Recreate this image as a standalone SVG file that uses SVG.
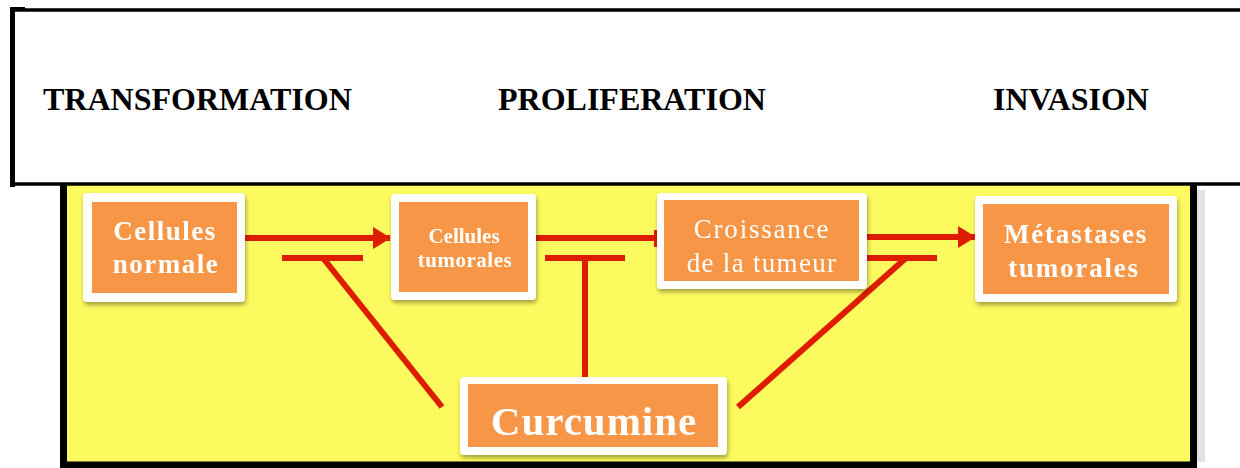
<svg xmlns="http://www.w3.org/2000/svg" width="1240" height="468" viewBox="0 0 1240 468">
  <defs>
    <filter id="shadow" x="-10%" y="-10%" width="125%" height="130%">
      <feGaussianBlur in="SourceAlpha" stdDeviation="2"/>
      <feOffset dx="1" dy="3" result="b"/>
      <feComponentTransfer><feFuncA type="linear" slope="0.35"/></feComponentTransfer>
      <feMerge><feMergeNode/><feMergeNode in="SourceGraphic"/></feMerge>
    </filter>
    <marker id="arrow" viewBox="0 0 18 22" refX="17" refY="11" markerWidth="18" markerHeight="22" markerUnits="userSpaceOnUse" orient="auto">
      <path d="M0,0 L18,11 L0,22 Z" fill="#DD1C00"/>
    </marker>
  </defs>
  <style>
    .frame { fill: #FFFFFF; }
    .box { fill: #F79646; }
    .lbl { fill: #FFFFFF; font-family: "Liberation Serif", "Times New Roman", serif; text-anchor: middle; }
    .b { font-weight: bold; }
    .head { fill: #000000; font-family: "Liberation Serif", "Times New Roman", serif; font-weight: bold; font-size: 32px; }
    .red { stroke: #DD1C00; stroke-width: 6; fill: none; }
  </style>

  <!-- background panels -->
  <rect x="0" y="0" width="1240" height="468" fill="#FFFFFF"/>
  <rect x="63.5" y="180" width="1130" height="285" fill="#FCFA5E" stroke="#000000" stroke-width="7"/>
  <rect x="1197" y="190" width="8" height="272" fill="#C8C8C8" opacity="0.5"/>
  <rect x="13" y="10" width="1240" height="174" fill="#FFFFFF" stroke="#000000" stroke-width="3.5"/>
  <rect x="10" y="7" width="15" height="3" fill="#000000"/>
  <rect x="10" y="7" width="5" height="180" fill="#000000"/>

  <!-- stage headings -->
  <g id="headings">
    <text class="head" x="43" y="110">TRANSFORMATION</text>
    <text class="head" x="498" y="110">PROLIFERATION</text>
    <text class="head" x="993" y="110">INVASION</text>
  </g>

  <!-- connectors -->
  <g id="connectors">
    <line class="red" x1="245" y1="238" x2="390" y2="238" marker-end="url(#arrow)"/>
    <line class="red" x1="536" y1="238" x2="655" y2="238"/>
    <line x1="655.5" y1="230" x2="655.5" y2="247" stroke="#DD1C00" stroke-width="3"/>
    <line class="red" x1="867" y1="237" x2="975" y2="237" marker-end="url(#arrow)"/>

    <line class="red" x1="282" y1="258" x2="363" y2="258"/>
    <line class="red" x1="323" y1="258" x2="442" y2="407"/>

    <line class="red" x1="545" y1="258" x2="625" y2="258"/>
    <line class="red" x1="585" y1="258" x2="585" y2="378"/>

    <line class="red" x1="867" y1="258" x2="937" y2="258"/>
    <line class="red" x1="906" y1="258" x2="738" y2="407"/>
  </g>

  <!-- nodes -->
  <g id="node-normale" filter="url(#shadow)">
    <rect class="frame" x="83" y="193" width="162" height="109" rx="4"/>
    <rect class="box" x="92" y="202" width="145" height="91"/>
    <text class="lbl b" x="165" y="240" font-size="27" letter-spacing="1.5">Cellules</text>
    <text class="lbl b" x="166" y="273" font-size="27" letter-spacing="1.5">normale</text>
  </g>

  <g id="node-tumorales" filter="url(#shadow)">
    <rect class="frame" x="391" y="194" width="145" height="106" rx="4"/>
    <rect class="box" x="399" y="202" width="129" height="90"/>
    <text class="lbl b" x="464" y="243" font-size="21">Cellules</text>
    <text class="lbl b" x="465" y="267" font-size="21" letter-spacing="0.5">tumorales</text>
  </g>

  <g id="node-croissance" filter="url(#shadow)">
    <rect class="frame" x="657" y="193" width="210" height="96" rx="4"/>
    <rect class="box" x="664" y="200" width="195" height="81"/>
    <text class="lbl" x="762" y="238" font-size="27" letter-spacing="1.8">Croissance</text>
    <text class="lbl" x="762" y="272" font-size="27" letter-spacing="1.3">de la tumeur</text>
  </g>

  <g id="node-metastases" filter="url(#shadow)">
    <rect class="frame" x="975" y="196" width="202" height="106" rx="4"/>
    <rect class="box" x="983" y="204" width="186" height="90"/>
    <text class="lbl b" x="1076" y="243" font-size="27" letter-spacing="1.8">Métastases</text>
    <text class="lbl b" x="1074" y="277" font-size="27" letter-spacing="1.8">tumorales</text>
  </g>

  <g id="node-curcumine" filter="url(#shadow)">
    <rect class="frame" x="460" y="377" width="267" height="78" rx="4"/>
    <rect class="box" x="468" y="384" width="250" height="63"/>
    <text class="lbl b" x="594" y="435" font-size="41" letter-spacing="1">Curcumine</text>
  </g>
</svg>
